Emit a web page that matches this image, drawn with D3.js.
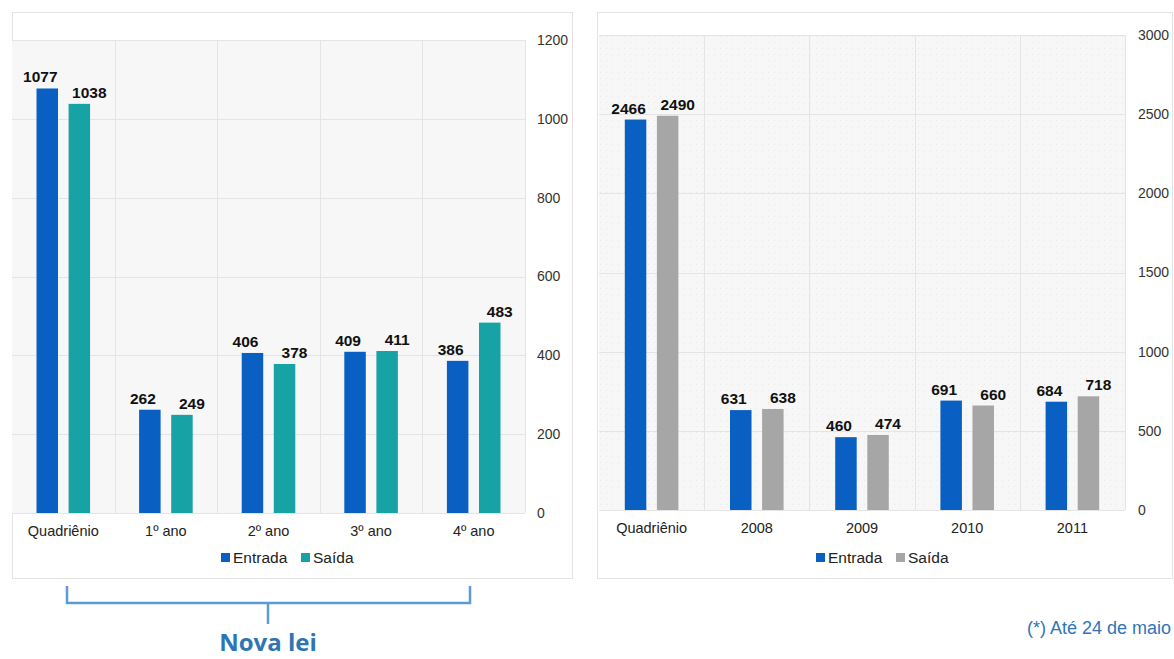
<!DOCTYPE html>
<html>
<head>
<meta charset="utf-8">
<script src="https://cdn.jsdelivr.net/npm/d3@7"></script>
<style>
  body { margin: 0; background: #fff; }
  svg { font-family: "Liberation Sans", Arial, sans-serif; }
</style>
</head>
<body>
<script>
// data
var leftCats = ["Quadriênio", "1º ano", "2º ano", "3º ano", "4º ano"],
    leftEntrada = [1077, 262, 406, 409, 386],
    leftSaida = [1038, 249, 378, 411, 483],
    leftTicks = [0, 200, 400, 600, 800, 1000, 1200];

var rightCats = ["Quadriênio", "2008", "2009", "2010", "2011"],
    rightEntrada = [2466, 631, 460, 691, 684],
    rightSaida = [2490, 638, 474, 660, 718],
    rightTicks = [0, 500, 1000, 1500, 2000, 2500, 3000];

var seriesNames = ["Entrada", "Saída"];

var svg = d3.select("body").append("svg")
    .attr("width", 1174)
    .attr("height", 659);

// dotted texture for the right plot
var defs = svg.append("defs");
defs.append("pattern")
    .attr("id", "dots")
    .attr("width", 6).attr("height", 6)
    .attr("patternUnits", "userSpaceOnUse")
  .append("rect")
    .attr("width", 1).attr("height", 1)
    .attr("fill", "#e8e8e8");

function drawPanel(opt) {
  var g = svg.append("g");

  // frame
  g.append("rect")
      .attr("x", opt.box[0] + 0.5).attr("y", opt.box[1] + 0.5)
      .attr("width", opt.box[2]).attr("height", opt.box[3])
      .attr("fill", "#fff")
      .attr("stroke", "#e3e3e3");

  var x0 = d3.scaleBand().domain(opt.cats).range([opt.left, opt.right]),
      y = d3.scaleLinear().domain([0, opt.ticks[opt.ticks.length - 1]]).range([opt.bottom, opt.top]);

  // plot background
  g.append("rect")
      .attr("x", opt.left).attr("y", opt.top)
      .attr("width", opt.right - opt.left).attr("height", opt.bottom - opt.top)
      .attr("fill", "#f7f7f7");
  if (opt.dots) {
    g.append("rect")
        .attr("x", opt.left).attr("y", opt.top)
        .attr("width", opt.right - opt.left).attr("height", opt.bottom - opt.top)
        .attr("fill", "url(#dots)");
  }

  // grid lines
  g.selectAll(".hgrid")
      .data(opt.ticks)
    .enter().append("line")
      .attr("x1", opt.left).attr("x2", opt.right)
      .attr("y1", function(d) { return Math.round(y(d)) + 0.5; })
      .attr("y2", function(d) { return Math.round(y(d)) + 0.5; })
      .attr("stroke", "#e4e4e4");
  g.selectAll(".vgrid")
      .data(opt.cats.slice(1).concat(["end"]))
    .enter().append("line")
      .attr("x1", function(d, i) { return Math.round(opt.left + x0.bandwidth() * (i + 1)) + 0.5; })
      .attr("x2", function(d, i) { return Math.round(opt.left + x0.bandwidth() * (i + 1)) + 0.5; })
      .attr("y1", opt.top).attr("y2", opt.bottom)
      .attr("stroke", "#e4e4e4");

  // y axis on the right
  var yAxis = d3.axisRight(y).tickValues(opt.ticks).tickFormat(d3.format("d")).tickSize(0).tickPadding(0);
  var ya = g.append("g")
      .attr("transform", "translate(" + opt.axisX + ",0)")
      .call(yAxis);
  ya.select(".domain").remove();
  ya.selectAll("text")
      .attr("font-size", 14)
      .attr("fill", "#333")
      .attr("font-family", "Liberation Sans, Arial, sans-serif");

  // x category labels
  var xa = g.append("g")
      .attr("transform", "translate(0," + opt.bottom + ")")
      .call(d3.axisBottom(x0).tickSize(0).tickPadding(13));
  xa.select(".domain").remove();
  xa.selectAll("text")
      .attr("font-size", 14.5)
      .attr("fill", "#222")
      .attr("font-family", "Liberation Sans, Arial, sans-serif");

  // bars
  var x1 = d3.scaleBand().domain(seriesNames).range([0, 60]).paddingInner(0.33).paddingOuter(0.1);
  var rows = opt.cats.map(function(c, i) {
    return {cat: c, values: [opt.entrada[i], opt.saida[i]]};
  });
  var groups = g.selectAll(".grp")
      .data(rows)
    .enter().append("g")
      .attr("transform", function(d) { return "translate(" + (x0(d.cat) + x0.bandwidth() / 2 - 30) + ",0)"; });

  groups.selectAll("rect")
      .data(function(d) { return d.values.map(function(v, j) { return {s: seriesNames[j], v: v, j: j}; }); })
    .enter().append("rect")
      .attr("x", function(d) { return x1(d.s); })
      .attr("width", x1.bandwidth())
      .attr("y", function(d) { return y(d.v); })
      .attr("height", function(d) { return opt.bottom - y(d.v); })
      .attr("fill", function(d) { return opt.colors[d.j]; });

  groups.selectAll(".val")
      .data(function(d) { return d.values.map(function(v, j) { return {s: seriesNames[j], v: v, j: j}; }); })
    .enter().append("text")
      .attr("x", function(d) { return x1(d.s) + x1.bandwidth() / 2 + (d.j === 0 ? -7 : 10); })
      .attr("y", function(d) { return y(d.v) - 6; })
      .attr("text-anchor", "middle")
      .attr("font-size", 15.5)
      .attr("font-weight", "bold")
      .attr("fill", "#111")
      .text(function(d) { return d.v; });

  // legend
  var lg = g.append("g").attr("transform", "translate(" + opt.legendX + "," + opt.legendY + ")");
  var items = [{name: seriesNames[0], dx: 0}, {name: seriesNames[1], dx: 80}];
  items.forEach(function(it, j) {
    lg.append("rect")
        .attr("x", it.dx).attr("y", -10)
        .attr("width", 9).attr("height", 9)
        .attr("fill", opt.colors[j]);
    lg.append("text")
        .attr("x", it.dx + 12).attr("y", 0)
        .attr("font-size", 15.5)
        .attr("fill", "#222")
        .text(it.name);
  });
}

drawPanel({
  cats: leftCats, entrada: leftEntrada, saida: leftSaida, ticks: leftTicks,
  box: [12, 12, 560, 566],
  left: 12, right: 525, top: 40, bottom: 513,
  axisX: 537, legendX: 221, legendY: 563,
  colors: ["#0a5fc2", "#17a3a6"], dots: false
});

drawPanel({
  cats: rightCats, entrada: rightEntrada, saida: rightSaida, ticks: rightTicks,
  box: [597, 12, 575, 566],
  left: 599, right: 1125, top: 35, bottom: 510,
  axisX: 1138, legendX: 816, legendY: 563,
  colors: ["#0a5fc2", "#a6a6a6"], dots: true
});

// "Nova lei" bracket
var br = svg.append("g")
    .attr("fill", "none")
    .attr("stroke", "#5b9bd5")
    .attr("stroke-width", 2.5);
br.append("path").attr("d", "M67,586 V603 H470 V586");
br.append("path").attr("d", "M268,603 V624");

svg.append("text")
    .attr("x", 268).attr("y", 651)
    .attr("text-anchor", "middle")
    .attr("font-size", 24)
    .attr("font-weight", "bold")
    .attr("fill", "#2e75b6")
    .attr("font-family", "Open Sans, Liberation Sans, sans-serif")
    .text("Nova lei");

svg.append("text")
    .attr("x", 1171).attr("y", 634)
    .attr("text-anchor", "end")
    .attr("font-size", 18)
    .attr("fill", "#2e75b6")
    .text("(*) Até 24 de maio");
</script>
</body>
</html>
